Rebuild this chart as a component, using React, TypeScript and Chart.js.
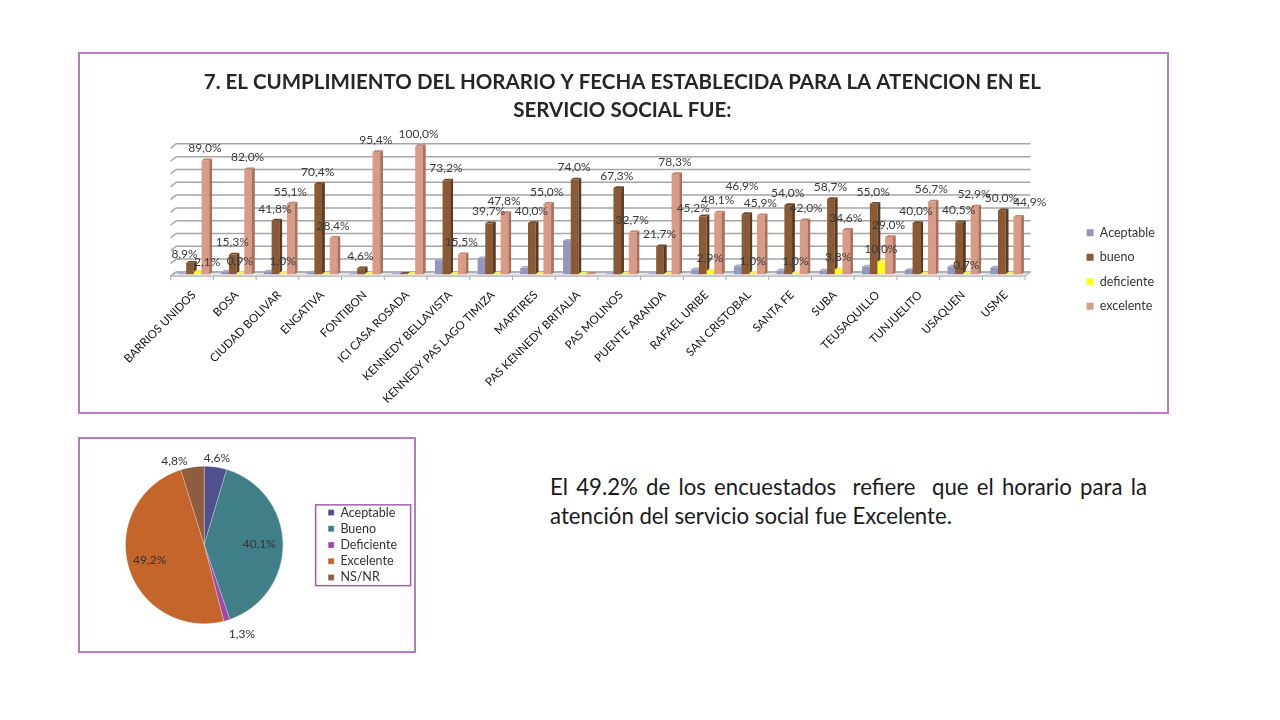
import React, { useEffect, useRef } from 'react';
import { Chart, registerables } from 'chart.js';

Chart.register(...registerables);

const sites = [
  'BARRIOS UNIDOS', 'BOSA', 'CIUDAD BOLIVAR', 'ENGATIVA', 'FONTIBON', 'ICI CASA ROSADA',
  'KENNEDY BELLAVISTA', 'KENNEDY PAS LAGO TIMIZA', 'MARTIRES', 'PAS KENNEDY BRITALIA',
  'PAS MOLINOS', 'PUENTE ARANDA', 'RAFAEL URIBE', 'SAN CRISTOBAL', 'SANTA FE', 'SUBA',
  'TEUSAQUILLO', 'TUNJUELITO', 'USAQUEN', 'USME',
];
const aceptable = [0.5, 1.8, 2.1, 1.2, 0.4, 0.4, 11, 12.5, 5, 26, 0.4, 0.4, 3.8, 6.2, 3, 2.9, 6, 3.3, 5.9, 5.1];
const bueno = [8.9, 15.3, 41.8, 70.4, 4.6, 0.3, 73.2, 39.7, 40, 74, 67.3, 21.7, 45.2, 46.9, 54, 58.7, 55, 40, 40.5, 50];
const deficiente = [2.1, 0.9, 1, 0.3, 0.3, 0.2, 0.3, 0.3, 0.3, 0.3, 0.3, 0.3, 2.9, 1, 1, 3.8, 10, 0.3, 0.7, 0.3];
const excelente = [89, 82, 55.1, 28.4, 95.4, 100, 15.5, 47.8, 55, 0.3, 32.7, 78.3, 48.1, 45.9, 42, 34.6, 29, 56.7, 52.9, 44.9];

const pieLabels = ['Aceptable', 'Bueno', 'Deficiente', 'Excelente', 'NS/NR'];
const pieValues = [4.6, 40.1, 1.3, 49.2, 4.8];

const FONT = 'Lato';
const pct = (v: number) => v.toFixed(1).replace('.', ',') + '%';

// hand placed labels, as in the original slide: "dataset:category" -> dx, dy
const labelNudges: Record<string, number[]> = {
  '1:0': [-5, 3],
  '2:0': [10, 3],
  '1:12': [-9, 4],
  '1:13': [-3, -16],
  '2:18': [0, 4],
  '3:14': [3, 0],
  '3:19': [13, -3],
};

const depthPlugin = {
  id: 'depth',
  beforeDatasetDraw: () => false,
  afterLayout(chart: any) {
    // legend sits lower than the vertical centre of the slide panel
    chart.legend.top += 29.5;
    chart.legend.bottom += 29.5;
  },
  beforeDatasetsDraw(chart: any) {
    const { ctx, chartArea } = chart;
    const y = chart.scales.y;
    const x = chart.scales.x;
    const frontLeft = chartArea.left - 1.8;
    const frontRight = chartArea.right - 2;
    const floorY = y.getPixelForValue(0) + 2;
    const dx = 5.5;
    const dy = 4.3;

    ctx.save();
    // floor
    ctx.fillStyle = '#E4E4E8';
    ctx.strokeStyle = '#A8A8A8';
    ctx.lineWidth = 1;
    ctx.beginPath();
    ctx.moveTo(frontLeft, floorY);
    ctx.lineTo(frontRight, floorY);
    ctx.lineTo(frontRight + dx, floorY - dy);
    ctx.lineTo(frontLeft + dx, floorY - dy);
    ctx.closePath();
    ctx.fill();
    ctx.stroke();

    // wall grid
    ctx.lineWidth = 1.5;
    ctx.strokeStyle = '#A6A6A6';
    y.ticks.forEach((t: any) => {
      const py = y.getPixelForValue(t.value);
      ctx.beginPath();
      ctx.moveTo(frontLeft, py + 2);
      ctx.lineTo(frontLeft + dx, py - 2.3);
      ctx.lineTo(frontRight + dx, py - 2.3);
      ctx.stroke();
    });

    // category ticks under the floor
    ctx.lineWidth = 1;
    for (let i = 0; i <= sites.length; i++) {
      const tx = frontLeft + (i * (frontRight - frontLeft)) / sites.length;
      ctx.beginPath();
      ctx.moveTo(tx, floorY);
      ctx.lineTo(tx, floorY + 4);
      ctx.stroke();
    }

    // bars left to right so each one sits over its neighbour's side face
    const depthX = 2.8;
    const depthY = 1.8;
    chart.data.datasets.forEach((ds: any, di: number) => {
      chart.getDatasetMeta(di).data.forEach((bar: any) => {
        bar.draw(ctx);
        const left = bar.x - bar.width / 2;
        const right = bar.x + bar.width / 2;
        ctx.fillStyle = ds.sideColor;
        ctx.beginPath();
        ctx.moveTo(right, bar.y);
        ctx.lineTo(right + depthX, bar.y - depthY);
        ctx.lineTo(right + depthX, bar.base - depthY);
        ctx.lineTo(right, bar.base);
        ctx.closePath();
        ctx.fill();
        ctx.fillStyle = ds.topColor;
        ctx.beginPath();
        ctx.moveTo(left, bar.y);
        ctx.lineTo(left + depthX, bar.y - depthY);
        ctx.lineTo(right + depthX, bar.y - depthY);
        ctx.lineTo(right, bar.y);
        ctx.closePath();
        ctx.fill();
      });
    });
    ctx.restore();
  },
  afterDatasetsDraw(chart: any) {
    const { ctx } = chart;
    ctx.save();
    ctx.font = `12px ${FONT}`;
    ctx.fillStyle = '#3A3A3A';
    ctx.textAlign = 'center';
    ctx.textBaseline = 'middle';
    chart.data.datasets.forEach((ds: any, di: number) => {
      if (di === 0) return;
      chart.getDatasetMeta(di).data.forEach((bar: any, i: number) => {
        if (ds.data[i] < 0.5) return;
        const nudge = labelNudges[`${di}:${i}`] || [0, 0];
        ctx.fillText(pct(ds.data[i]), bar.x - 0.5 + nudge[0], bar.y - 12 + nudge[1]);
      });
    });
    ctx.restore();
  },
};

// radius factor and nudge for each pie label
const pieLabelRadius = [1.12, 0.7, 1.22, 0.72, 1.16];
const pieLabelNudge = [[0, 0], [0, 0], [10, -3], [0, 0], [-16, 6]];

const pieLabelPlugin = {
  id: 'pieLabels',
  afterDatasetsDraw(chart: any) {
    const { ctx } = chart;
    ctx.save();
    ctx.font = `12px ${FONT}`;
    ctx.fillStyle = '#333333';
    ctx.textAlign = 'center';
    ctx.textBaseline = 'middle';
    chart.getDatasetMeta(0).data.forEach((arc: any, i: number) => {
      const a = (arc.startAngle + arc.endAngle) / 2;
      const r = arc.outerRadius * pieLabelRadius[i];
      ctx.fillText(
        pct(pieValues[i]),
        arc.x + Math.cos(a) * r + pieLabelNudge[i][0],
        arc.y + Math.sin(a) * r + pieLabelNudge[i][1],
      );
    });
    ctx.restore();
  },
  afterDraw(chart: any) {
    // outline only around the legend rows, not the whole layout box
    const { ctx, legend } = chart;
    const hits = legend.legendHitBoxes;
    const top = hits[0].top - 1.5;
    const bottom = hits[hits.length - 1].top + hits[hits.length - 1].height + 2;
    ctx.save();
    ctx.strokeStyle = '#A35CB0';
    ctx.lineWidth = 1.5;
    ctx.strokeRect(hits[0].left - 12.5, top, 95, bottom - top);
    ctx.restore();
  },
};

const panel = (left: number, top: number, width: number, height: number): React.CSSProperties => ({
  position: 'absolute',
  left,
  top,
  width,
  height,
  boxSizing: 'border-box',
  border: '2px solid #B87CC2',
});

export default function App() {
  const barRef = useRef<HTMLCanvasElement>(null);
  const pieRef = useRef<HTMLCanvasElement>(null);

  useEffect(() => {
    const bars = new Chart(barRef.current!, {
      type: 'bar',
      plugins: [depthPlugin],
      data: {
        labels: sites,
        datasets: [
          { label: 'Aceptable', data: aceptable, backgroundColor: '#9496BE', sideColor: '#6C6E96', topColor: '#A9ABCB' },
          { label: 'bueno', data: bueno, backgroundColor: '#8A5A34', sideColor: '#5A3A20', topColor: '#70482A' },
          { label: 'deficiente', data: deficiente, backgroundColor: '#FFFF1E', sideColor: '#C8C810', topColor: '#F0F060' },
          { label: 'excelente', data: excelente, backgroundColor: '#D99B85', sideColor: '#A9705C', topColor: '#BE8470' },
        ] as any,
      },
      options: {
        animation: false,
        responsive: false,
        layout: { padding: { left: 0, right: 2.25, top: 14, bottom: 0 } },
        datasets: { bar: { barPercentage: 1, categoryPercentage: 0.72 } },
        scales: {
          x: {
            grid: { display: false },
            border: { display: false },
            ticks: {
              autoSkip: false,
              minRotation: 45,
              maxRotation: 45,
              padding: 6,
              color: '#111111',
              font: { family: FONT, size: 11.5 },
            },
          },
          y: {
            min: 0,
            max: 100,
            grid: { display: false },
            border: { display: false },
            ticks: { display: false, stepSize: 10 },
            afterFit: (s: any) => { s.width = 92.5; },
          },
          // empty axis, only keeps the gap between plot and legend
          y2: {
            position: 'right',
            grid: { display: false },
            border: { display: false },
            ticks: { display: false },
            afterFit: (s: any) => { s.width = 47.5; },
          },
        },
        plugins: {
          tooltip: { enabled: false },
          title: {
            display: true,
            text: [
              '7. EL CUMPLIMIENTO DEL HORARIO Y FECHA ESTABLECIDA PARA LA ATENCION EN EL',
              'SERVICIO SOCIAL FUE:',
            ],
            color: '#262626',
            font: { family: FONT, size: 20.5, weight: 'bold', lineHeight: 1.37 },
            padding: { top: 0, bottom: 22 },
          },
          legend: {
            position: 'right',
            labels: {
              boxWidth: 7,
              boxHeight: 7,
              padding: 12,
              color: '#333333',
              font: { family: FONT, size: 12.5 },
            },
          },
        },
      },
    });

    const pie = new Chart(pieRef.current!, {
      type: 'pie',
      plugins: [pieLabelPlugin],
      data: {
        labels: pieLabels,
        datasets: [
          {
            data: pieValues,
            backgroundColor: ['#50508E', '#407F88', '#A047AC', '#C4652C', '#8F5C3F'],
            borderWidth: 0.5,
            borderColor: 'rgba(255,255,255,0.5)',
          },
        ],
      },
      options: {
        animation: false,
        responsive: false,
        layout: { padding: { left: 4, right: 7, top: 27, bottom: 27 } },
        plugins: {
          tooltip: { enabled: false },
          legend: {
            position: 'right',
            labels: {
              boxWidth: 6,
              boxHeight: 6,
              padding: 3.7,
              color: '#333333',
              font: { family: FONT, size: 12.5 },
            },
          },
        },
      },
    });

    return () => {
      bars.destroy();
      pie.destroy();
    };
  }, []);

  const textLine: React.CSSProperties = {
    fontFamily: FONT,
    fontSize: 22.2,
    lineHeight: '29px',
    color: '#1A1A1A',
  };

  return (
    <div style={{ position: 'fixed', left: 0, top: 0, width: 1280, height: 720, background: '#fff', overflow: 'hidden' }}>
      <div style={panel(78, 52, 1091, 362)}>
        <canvas ref={barRef} width={1087} height={358} style={{ display: 'block' }} />
      </div>
      <div style={panel(78, 437, 338, 216)}>
        <canvas ref={pieRef} width={334} height={212} style={{ display: 'block' }} />
      </div>
      <div style={{ position: 'absolute', left: 550, top: 472, width: 597 }}>
        <div style={{ ...textLine, textAlign: 'justify', textAlignLast: 'justify' }}>
          El 49.2% de los encuestados&nbsp; refiere&nbsp; que el horario para la
        </div>
        <div style={textLine}>atención del servicio social fue Excelente.</div>
      </div>
    </div>
  );
}
